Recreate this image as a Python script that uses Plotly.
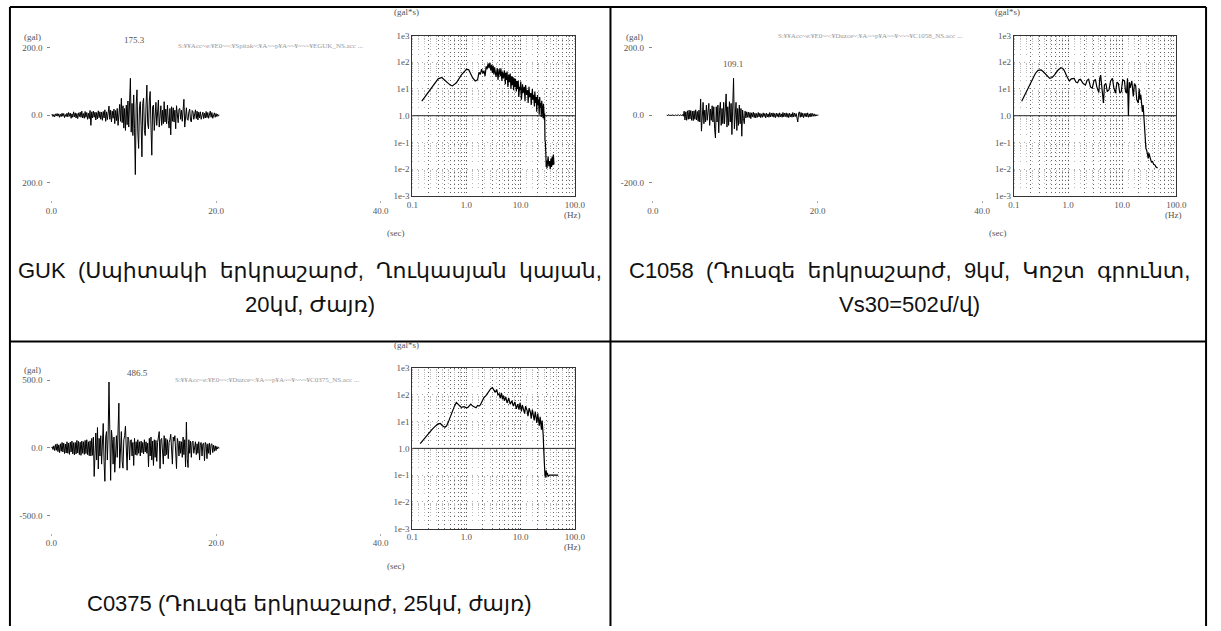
import plotly.graph_objects as go

W, H = 1221, 631
DT = 0.1  # sampling step of the plotted accelerograms, s

# ---------------- accelerograms (gal), one row per second ----------------
guk_start = 0.0
guk_acc = [
    0, 3, -4, 2, -5, 4, -2, 5, -3, 4,
    -6, 3, -4, 6, -3, 5, -7, 2, -4, 6,
    -5, 8, -3, 6, -9, 4, -6, 10, -5, 7,
    -8, 5, -10, 7, -4, 9, -6, 12, -8, 5,
    -9, 11, -6, 8, -12, 6, -10, 14, -30, 10,
    -8, 12, -6, 9, -14, 8, -11, 13, -7, 10,
    -12, 9, -15, 11, -8, 16, -18, 10, -13, 15,
    27, -12, 15, -20, 12, -9, 18, -25, 14, -16,
    20, -30, 15, 32, -18, 50, -22, 28, -38, 20,
    -45, 30, -28, 42, -35, 25, 109, -50, 35, -60,
    60, -40, -175.3, 30, 75, -50, -98, 25, 40, -30,
    -123, 35, 50, -45, -60, 30, 89, -25, -40, 45,
    70, -35, -118, 25, 30, -45, 20, 38, -30, 25,
    45, -35, 20, 28, -30, 15, -25, 40, -20, 18,
    -25, 30, -15, -38, 20, -58, 25, -18, 22, -20,
    15, -40, 28, -15, -22, 18, 20, -12, 15, -18,
    12, 47, -35, 15, 22, -12, -15, 10, 18, -14,
    -20, 14, 10, -12, 8, 16, -10, 12, -14, 9,
    -8, 10, -12, 7, 9, -10, 6, -8, 11, -7,
    8, -9, 6, 12, -6, 8, -9, 5, 7, -6,
    5, -4, 3, -2, 0,
]

c1058_start = 1.7
c1058_acc = [
    1, -2, 2, -1, 1, -2, 1, 0, 1, -1,
    0, 1, -1, 0, 1, -1, 0, 1, -1, 2,
    -3, 12, -14, 10, -15, 13, -12, 15, -11, 14,
    -15, 12, -16, 13, -12, 16, -14, 11, -18, 15,
    -20, 48, -47, 20, 38, -25, 15, -20, 30, -15,
    12, 35, -30, 18, -15, 28, -20, 25, -40, -67,
    25, -20, 30, -52, 15, 38, -30, 20, -25, 38,
    -25, 20, 63, -35, 25, -30, 40, -20, 35, -57,
    30, 109.1, -40, 25, 38, -45, 20, -30, 30, -25,
    20, -62, 15, -10, -25, 12, -8, 10, -6, 9,
    -7, 8, -10, 7, -5, 9, -7, 6, -8, 5,
    -6, 8, -5, 6, -7, 4, -6, 7, -4, 5,
    -8, 6, -5, 4, -6, 8, -5, 6, -4, 7,
    -6, 5, -7, 6, -4, 5, -6, 7, -5, 4,
    -6, 8, -5, 6, -4, 7, -6, 5, -7, 6,
    -5, 4, -6, 8, -5, 6, -4, 5, -8, -20,
    6, 10, -6, 8, -5, 6, -7, 5, -4, 6,
    -5, 7, -6, 4, -5, 6, -4, 5, -3, 4,
    -3, 2, -2, 1, 0,
]

c0375_start = 0.0
c0375_acc = [
    0, 8, -12, 15, -20, 25, -18, 30, -28, 22,
    -35, 30, -25, 40, -30, 35, -42, 28, -38, 45,
    -40, 35, -48, 42, -30, 50, -45, 38, -52, 40,
    -45, 55, -38, 48, -50, 42, -55, 50, -40, 45,
    -48, 55, -42, 60, -50, 45, -58, 52, -60, 70,
    -55, 80, -211, 60, 110, -90, 150, -156, 70, -60,
    90, -120, 60, 180, -100, -247, 80, 120, -90, 100,
    486.5, -120, -240, 130, 60, -120, 80, -180, 60, 90,
    -70, 90, 330, -150, 70, 120, -100, -150, 60, 90,
    160, -80, -165, 80, 60, -90, 50, 60, -60, 40,
    -130, 70, -50, 45, -55, 60, -40, 45, -60, 50,
    -35, 40, -45, 60, -30, 45, -40, 35, -140, 70,
    -60, 80, -90, 50, -130, 60, -70, 55, -100, 40,
    90, 120, -153, 60, 70, -80, -120, 90, -60, 70,
    -50, 60, -80, 40, 60, 100, -70, -120, 80, 50,
    90, -60, -153, 70, 40, -60, 50, -40, 45, -70,
    80, -50, 60, -140, 190, -80, -145, 60, -40, 50,
    -70, 40, 50, -40, 35, 45, -50, 30, -40, 45,
    -90, 35, 40, -60, 30, 35, -95, 40, 25, -80,
    30, -40, 35, -50, 25, 30, -35, 20, -25, 15,
    -20, 10, -8, 5, 0,
]

# ---------------- Fourier amplitude spectra (gal*s) ----------------
guk_freq = [
    0.15, 0.2, 0.25, 0.3, 0.35, 0.4, 0.45, 0.5, 0.55, 0.65, 0.8, 0.9, 1.0, 1.1, 1.2, 1.3, 1.45, 1.6,
    1.7, 1.8, 1.9, 2.0, 2.1, 2.2, 2.3, 2.4, 2.5, 2.6, 2.7, 2.8, 2.9, 3.0, 3.1, 3.2, 3.3, 3.5, 3.7, 3.8,
    4.0, 4.2, 4.3, 4.5, 4.6, 4.8, 5.0, 5.2, 5.3, 5.5, 5.6, 5.8, 6.0, 6.2, 6.4, 6.6, 6.8, 7.0, 7.2, 7.4,
    7.6, 7.8, 8.0, 8.3, 8.5, 8.8,
    9.0, 9.2, 9.5, 9.7, 10, 10.3, 10.8, 11, 11.6, 12, 12.3, 12.9, 13.4, 13.7, 14.2, 14.6, 15.3, 15.6,
    16.4, 16.7, 17.3, 17.9, 18.2, 18.8, 19.4, 19.7, 20.4, 20.8, 21.3, 21.9, 22.4, 22.8, 23.5, 23.9,
    24.4, 24.9, 25.4, 25.8, 26.3, 26.8, 27,
    27.3, 27.6, 28, 28.5, 29, 29.5, 30, 30.5, 31, 31.5, 32, 33, 34, 35, 36, 37, 38, 39, 40, 41,
]
guk_amp = [
    3.5, 8, 15, 24, 27, 21, 16, 14, 13, 17, 33, 45, 55, 52, 38, 26, 20, 22,
    42, 35, 55, 38, 48, 30, 70, 55, 90, 60, 96, 50, 80, 40, 75, 35, 65, 28, 60, 22,
    55, 30, 60, 20, 45, 25, 50, 15, 40, 22, 45, 12, 35, 18, 38, 10, 30, 14, 28, 9,
    25, 12, 24, 8, 20, 10,
    20, 5, 12, 9, 19, 4, 15, 7, 12, 3.5, 14, 6, 9, 3, 12, 5, 7, 2.5, 10,
    4, 6, 2.2, 8, 3, 5, 1.4, 6, 2.5, 4, 1.1, 5, 2, 3, 0.9, 3.6, 1.5,
    2.5, 0.8, 2.8, 1.1, 1.8, 0.7, 1.2,
    0.12, 0.1, 0.04, 0.012, 0.02, 0.011, 0.025, 0.012, 0.03, 0.013, 0.02, 0.01, 0.025, 0.012, 0.03,
    0.014, 0.035, 0.015, 0.045, 0.05,
]

c1058_freq = [
    0.14, 0.17, 0.21, 0.25, 0.28, 0.32, 0.35, 0.4, 0.46, 0.51, 0.56, 0.65, 0.74, 0.8, 0.85, 0.95,
    1.06, 1.15, 1.3, 1.4, 1.5, 1.6, 1.7, 1.9, 2.1, 2.25, 2.4, 2.6, 2.8, 3.0, 3.2, 3.4, 3.7, 3.85,
    4.0, 4.2, 4.5, 4.7, 5.0, 5.3, 5.7, 6.1, 6.6, 7.0, 7.5, 8.0, 8.5, 9.0, 9.6, 10.2, 11, 11.5, 12,
    12.5, 13, 13.5, 14, 15, 16, 16.8, 17.7, 18.5, 19.8, 20.5, 21.3, 22, 22.7, 23.5, 24.3, 25.3,
    25.8, 26.4, 27.3, 28.3, 29, 30.2, 31, 32.3, 33.5, 34.6, 36, 38, 39.6, 42, 45,
]
c1058_amp = [
    3.5, 8, 21, 38, 50, 52, 44, 32, 25, 27, 33, 50, 62, 58, 50, 30,
    20, 24, 25, 18, 17, 22, 23, 16, 14, 21, 23, 12, 10.7, 20, 23, 12, 7.4, 25,
    33, 12, 3.0, 14, 16, 8, 9.3, 20, 25, 11, 7, 18, 16, 7, 8, 22, 20, 8, 7,
    25, 1.0, 18, 11, 20, 5.3, 16, 13, 4, 3.0, 10, 4, 6, 2, 1.4, 2.5, 0.73,
    0.3, 0.1, 0.06, 0.05, 0.03, 0.025, 0.04, 0.03, 0.02, 0.018, 0.02, 0.015, 0.015, 0.012, 0.011,
]

c0375_freq = [
    0.14, 0.17, 0.2, 0.23, 0.26, 0.3, 0.33, 0.36, 0.4, 0.43, 0.46, 0.5, 0.55, 0.6, 0.65, 0.7, 0.75,
    0.8, 0.9, 1.0, 1.06, 1.15, 1.2, 1.3, 1.4, 1.5, 1.6, 1.7, 1.8, 1.9, 2.0, 2.1, 2.27, 2.4, 2.6, 2.8,
    3.0, 3.2, 3.4, 3.6, 3.8, 4.0, 4.2, 4.4, 4.6, 4.8, 5.0, 5.3, 5.6, 6.0, 6.4, 6.9, 7.3, 7.8, 8.3,
    8.8, 9.3, 9.7, 10.3, 10.7, 11.2, 11.8, 12.3, 13.1, 13.6, 14.3, 15.1, 15.6, 16.4, 17.2, 17.7,
    18.5, 19.3, 19.8, 20.6, 21.4, 22, 22.8, 23.5, 24.1, 24.8, 25.5, 26,
    26.5, 27, 27.5, 28, 28.5, 29, 29.5, 30, 31, 32, 34, 38, 44, 49,
]
c0375_amp = [
    1.5, 2.5, 3.8, 5, 6.5, 8.2, 8.5, 7, 6.2, 7, 9.4, 15, 25, 38, 52, 45, 38,
    34, 36, 33, 34, 42, 45, 38, 36, 33, 40, 38, 42, 55, 70, 80, 92, 110, 140, 170,
    186, 150, 125, 160, 100, 110, 75, 120, 70, 95, 60, 85, 50, 75, 45, 60, 38, 55, 30,
    45, 28, 50, 24, 42, 30, 20, 38, 26, 16, 32, 22, 13, 28, 18, 11,
    24, 15, 9, 20, 12, 7, 15, 10, 5, 11, 6, 3,
    1.0, 0.3, 0.13, 0.09, 0.14, 0.08, 0.15, 0.1, 0.12, 0.09, 0.1, 0.1, 0.1, 0.1,
]

# ---------------- axis labels ----------------
time_ticks = [0, 20, 40]
time_ticktext = ["0.0", "20.0", "40.0"]
freq_ticks = [0.1, 1, 10, 100]
freq_ticktext = ["0.1", "1.0", "10.0", "100.0"]
amp_ticks = [1e3, 1e2, 1e1, 1, 1e-1, 1e-2, 1e-3]
amp_ticktext = ["1e3", "1e2", "1e1", "1.0", "1e-1", "1e-2", "1e-3"]
freq_minor = [m * 10.0 ** e for e in (-1, 0, 1) for m in range(2, 10)]
amp_minor = [m * 10.0 ** e for e in range(-3, 3) for m in range(2, 10)]

SP = "\u00a0\u00a0"  # slightly widened word gap for the full-width first caption lines
YEN = "\u00a5"

panels = [
    dict(t0=guk_start, acc=guk_acc, lim=200, acc_ticktext=["200.0", "0.0", "200.0"],
         peak="175.3", peak_px=(130, 36),
         src=f"S:{YEN}{YEN}Acc~e:{YEN}E0~~:{YEN}Spitak~:{YEN}A~~p{YEN}A~~{YEN}~~~{YEN}EGUK_NS.acc ...",
         src_px=(268, 42),
         freq=guk_freq, amp=guk_amp, ox=0, oy=0,
         caption=[f"GUK{SP}(Սպիտակի{SP}երկրաշարժ,{SP}Ղուկասյան{SP}կայան,",
                  "20կմ, Ժայռ)"]),
    dict(t0=c1058_start, acc=c1058_acc, lim=200, acc_ticktext=["200.0", "0.0", "-200.0"],
         peak="109.1", peak_px=(737, 60),
         src=f"S:{YEN}{YEN}Acc~e:{YEN}E0~~:{YEN}Duzce~:{YEN}A~~p{YEN}A~~{YEN}~~~{YEN}C1058_NS.acc ...",
         src_px=(876, 32),
         freq=c1058_freq, amp=c1058_amp, ox=610, oy=0,
         caption=[f"C1058{SP}(Դուսզե{SP}երկրաշարժ,{SP}9կմ,{SP}Կոշտ{SP}գրունտ,",
                  "Vs30=502մ/վ)"]),
    dict(t0=c0375_start, acc=c0375_acc, lim=500, acc_ticktext=["500.0", "0.0", "-500.0"],
         peak="486.5", peak_px=(133, 374),
         src=f"S:{YEN}{YEN}Acc~e:{YEN}E0~~:{YEN}Duzce~:{YEN}A~~p{YEN}A~~{YEN}~~~{YEN}C0375_NS.acc ...",
         src_px=(265, 381),
         freq=c0375_freq, amp=c0375_amp, ox=0, oy=338,
         caption=["C0375 (Դուսզե երկրաշարժ, 25կմ, ժայռ)"]),
]


def fx(p):
    return p / W


def fy(p):
    return 1 - p / H


tick_font = dict(family="Liberation Serif", size=9, color="#555")
small_font = dict(family="Liberation Serif", size=9, color="#555")
src_font = dict(family="Liberation Serif", size=7, color="#999")
caption_font = dict(family="Liberation Sans, DejaVu Sans", size=22, color="#111")

fig = go.Figure()
layout = {}
annotations = []
shapes = []


def note(text, x, y, font=small_font):
    annotations.append(dict(text=text, x=fx(x), y=fy(y), xref="paper", yref="paper",
                            showarrow=False, font=font, xanchor="center", yanchor="middle"))


for i, p in enumerate(panels):
    ox, oy = p["ox"], p["oy"]
    na, nb = 2 * i + 1, 2 * i + 2
    xa, ya = f"x{na}", f"y{na}"
    xb, yb = f"x{nb}", f"y{nb}"

    # accelerogram
    t = [p["t0"] + k * DT for k in range(len(p["acc"]))]
    fig.add_trace(go.Scatter(x=t, y=p["acc"], mode="lines", xaxis=xa, yaxis=ya,
                             line=dict(color="black", width=1), showlegend=False))
    layout[f"xaxis{na}"] = dict(
        domain=[fx(ox + 46), fx(ox + 380)], range=[0, 40], anchor=ya,
        tickmode="array", tickvals=time_ticks, ticktext=time_ticktext,
        showgrid=False, zeroline=False, showline=False,
        ticks="outside", ticklen=2, tickcolor="#aaa", tickfont=tick_font)
    lim = p["lim"]
    layout[f"yaxis{na}"] = dict(
        domain=[fy(oy + 198), fy(oy + 26)], range=[-1.25 * lim, 1.25 * lim], anchor=xa,
        tickmode="array", tickvals=[lim, 0, -lim], ticktext=p["acc_ticktext"],
        showgrid=False, zeroline=False, showline=False, ticklabelstandoff=3,
        ticks="outside", ticklen=3, tickcolor="#888", tickfont=tick_font)

    # Fourier spectrum with the 1.0 reference line
    fig.add_trace(go.Scatter(x=[freq_ticks[0], freq_ticks[-1]], y=[1, 1], mode="lines",
                             xaxis=xb, yaxis=yb, line=dict(color="#222", width=1),
                             showlegend=False, hoverinfo="skip"))
    fig.add_trace(go.Scatter(x=p["freq"], y=p["amp"], mode="lines", xaxis=xb, yaxis=yb,
                             line=dict(color="black", width=1.2), showlegend=False))
    layout[f"xaxis{nb}"] = dict(
        type="log", domain=[fx(ox + 412), fx(ox + 577)], range=[-1, 2], anchor=yb,
        tickmode="array", tickvals=freq_ticks, ticktext=freq_ticktext,
        showline=True, mirror=True, linecolor="#333", linewidth=1,
        showgrid=True, gridcolor="#555", griddash="1px,3px", gridwidth=1,
        minor=dict(tickmode="array", tickvals=freq_minor, showgrid=True,
                   gridcolor="#666", griddash="1px,3px", gridwidth=1),
        zeroline=False, ticks="", tickfont=tick_font)
    layout[f"yaxis{nb}"] = dict(
        type="log", domain=[fy(oy + 194), fy(oy + 31)], range=[-3, 3], anchor=xb,
        tickmode="array", tickvals=amp_ticks, ticktext=amp_ticktext,
        showline=True, mirror=True, linecolor="#333", linewidth=1,
        showgrid=True, gridcolor="#aaa", griddash="1px,4px", gridwidth=1,
        minor=dict(tickmode="array", tickvals=amp_minor, showgrid=True,
                   gridcolor="#bbb", griddash="1px,5px", gridwidth=1),
        zeroline=False, ticks="", tickfont=tick_font)

    # axis captions and record header
    note("(gal)", ox + 27, oy + 33)
    note(p["peak"], *p["peak_px"])
    note(p["src"], *p["src_px"], font=src_font)
    note("(sec)", ox + 396, oy + 232)
    note("(gal*s)", ox + 406, oy + 7)
    note("(Hz)", ox + 574, oy + 213)

    # table caption
    cx = 308 if ox == 0 else 916
    for j, line in enumerate(p["caption"]):
        note(line, cx, oy + 270 + 34 * j, font=caption_font)


# table rules
def rule(x0, y0, x1, y1):
    shapes.append(dict(type="line", xref="paper", yref="paper",
                       x0=fx(x0), y0=fy(y0), x1=fx(x1), y1=fy(y1),
                       line=dict(color="black", width=2)))


rule(4, 2, 1217, 2)
rule(4, 342, 1217, 342)
rule(4, 2, 4, 631)
rule(613, 2, 613, 631)
rule(1217, 2, 1217, 631)

fig.update_layout(
    width=W, height=H, margin=dict(l=0, r=0, t=0, b=0),
    paper_bgcolor="white", plot_bgcolor="white",
    annotations=annotations, shapes=shapes, showlegend=False,
    **layout,
)

fig.write_html("out.html")
